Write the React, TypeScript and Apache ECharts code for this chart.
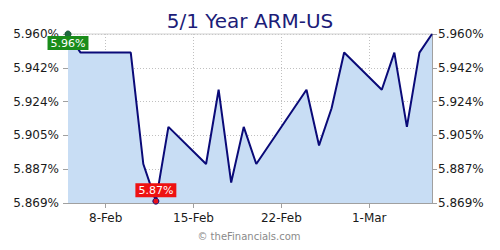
import React, { useEffect, useRef } from "react";
import * as echarts from "echarts";

const dayLabels = [
  "5-Feb", "6-Feb", "7-Feb", "8-Feb", "9-Feb", "10-Feb", "11-Feb", "12-Feb", "13-Feb", "14-Feb",
  "15-Feb", "16-Feb", "17-Feb", "18-Feb", "19-Feb", "20-Feb", "21-Feb", "22-Feb", "23-Feb", "24-Feb",
  "25-Feb", "26-Feb", "27-Feb", "28-Feb", "1-Mar", "2-Mar", "3-Mar", "4-Mar", "5-Mar", "6-Mar",
];

const tickLabels = ["8-Feb", "15-Feb", "22-Feb", "1-Mar"];

const dates = [
  "5-Feb", "6-Feb", "10-Feb", "11-Feb", "12-Feb", "13-Feb", "16-Feb", "17-Feb", "18-Feb", "19-Feb",
  "20-Feb", "24-Feb", "25-Feb", "26-Feb", "27-Feb", "2-Mar", "3-Mar", "4-Mar", "5-Mar", "6-Mar",
];

const rates = [
  5.96, 5.95, 5.95, 5.89, 5.87, 5.91, 5.89, 5.93, 5.88, 5.91,
  5.89, 5.93, 5.90, 5.92, 5.95, 5.93, 5.95, 5.91, 5.95, 5.96,
];

const yMin = 5.869;
const yMax = 5.96;
const yInterval = (yMax - yMin) / 5;

const FONT = "DejaVu Sans";

export default function App() {
  const ref = useRef<HTMLDivElement>(null);
  useEffect(() => {
    if (!ref.current) return;
    const chart = echarts.init(ref.current, null, { renderer: "svg" });
    const isTick = (_i: number, v: string) => tickLabels.includes(v);
    const yAxisCommon = {
      type: "value" as const,
      min: yMin,
      max: yMax,
      interval: yInterval,
      axisLine: { show: true, lineStyle: { color: "#a0a0a0", width: 1 } },
      axisTick: { show: true, length: 5, lineStyle: { color: "#a0a0a0" } },
      splitLine: { show: false },
    };
    chart.setOption({
      animation: false,
      backgroundColor: "#ffffff",
      title: {
        text: "5/1 Year ARM-US",
        left: "center",
        top: 6,
        textStyle: { fontFamily: FONT, fontSize: 20, fontWeight: "normal", color: "#1c1c78" },
      },
      grid: { left: 68, right: 68, top: 34, bottom: 47, containLabel: false, show: false },
      xAxis: {
        type: "category",
        data: dayLabels,
        boundaryGap: false,
        axisLine: { lineStyle: { color: "#a0a0a0", width: 1 } },
        axisTick: { show: true, length: 5, interval: isTick, lineStyle: { color: "#a0a0a0" } },
        axisLabel: {
          interval: isTick,
          margin: 9,
          fontFamily: FONT,
          fontSize: 12,
          color: "#1a1a1a",
        },
        splitLine: {
          show: true,
          interval: isTick,
          lineStyle: { color: "#c0c0c0", type: [1, 2], width: 1 },
        },
      },
      yAxis: [
        {
          ...yAxisCommon,
          position: "left",
          axisLabel: {
            margin: 9,
            fontFamily: FONT,
            fontSize: 12,
            color: "#1a1a1a",
            formatter: (v: number) => v.toFixed(3) + "%",
          },
          splitLine: {
            show: true,
            lineStyle: { color: "#c0c0c0", type: [1, 2], width: 1 },
          },
        },
        {
          ...yAxisCommon,
          position: "right",
          axisLabel: {
            margin: 6,
            fontFamily: FONT,
            fontSize: 12,
            color: "#1a1a1a",
            formatter: (v: number) => v.toFixed(3) + "%",
          },
        },
      ],
      graphic: [
        {
          type: "line",
          shape: { x1: 68, y1: 34, x2: 432, y2: 34 },
          style: { stroke: "#d0d0d0", lineWidth: 1 },
          z: 1,
        },
        {
          type: "text",
          x: 249,
          y: 236,
          style: {
            text: "© theFinancials.com",
            fontFamily: FONT,
            fontSize: 10,
            fill: "#8a8a8a",
            align: "center",
            verticalAlign: "middle",
          },
        },
      ],
      series: [
        {
          type: "line",
          yAxisIndex: 0,
          data: dates.map((d, i) => [d, rates[i]]),
          showSymbol: false,
          symbol: "none",
          lineStyle: { color: "#0a0a78", width: 2 },
          areaStyle: { color: "#c8ddf4", opacity: 1 },
          z: 3,
          markPoint: {
            symbol: "circle",
            symbolSize: 6,
            data: [
              {
                type: "max",
                itemStyle: { color: "#1d6a3d", borderColor: "#0f4f2f", borderWidth: 1 },
                label: {
                  show: true,
                  position: "inside",
                  offset: [0, 9],
                  formatter: (p: any) => Number(p.value).toFixed(2) + "%",
                  backgroundColor: "#1a8c1a",
                  color: "#ffffff",
                  fontFamily: FONT,
                  fontSize: 11,
                  lineHeight: 12,
                  padding: [1, 3, 1, 3],
                },
              },
              {
                type: "min",
                itemStyle: { color: "#e8101a", borderColor: "#0a0a78", borderWidth: 1 },
                label: {
                  show: true,
                  position: "inside",
                  offset: [0, -11],
                  formatter: (p: any) => Number(p.value).toFixed(2) + "%",
                  backgroundColor: "#ee1111",
                  color: "#ffffff",
                  fontFamily: FONT,
                  fontSize: 11,
                  lineHeight: 12,
                  padding: [1, 3, 1, 3],
                },
              },
            ],
          },
        },
      ],
    });
    return () => chart.dispose();
  }, []);
  return <div ref={ref} style={{ width: 500, height: 250, position: "absolute", left: 0, top: 0 }} />;
}
